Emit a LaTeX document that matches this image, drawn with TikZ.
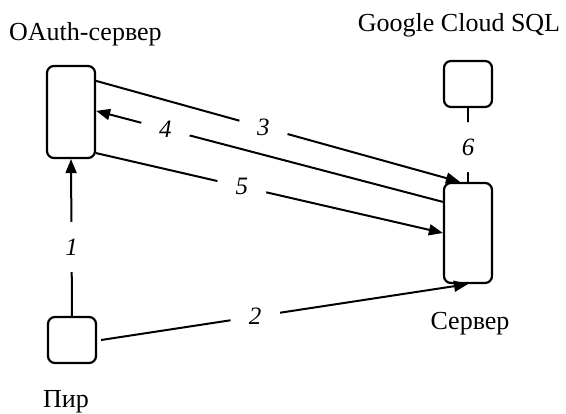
\documentclass[tikz,border=0pt]{standalone}
\usepackage{fontspec}
\setmainfont{Liberation Serif}
\usetikzlibrary{arrows.meta}
\begin{document}
\begin{tikzpicture}[x=1pt,y=-1pt,
  box/.style={draw, line width=2.2pt, rounded corners=7pt, inner sep=0pt},
  link/.style={line width=2pt},
  arr/.style={link, -{Triangle[length=14pt,width=11pt]}},
  num/.style={circle, fill=white, inner sep=0pt, minimum size=50pt,
    font=\fontsize{25}{30}\selectfont\itshape},
  caption/.style={inner sep=0pt, font=\fontsize{26}{31}\selectfont}]
\useasboundingbox (0,0) rectangle (566,414);

% components
\node[box, minimum width=48pt, minimum height=92pt] (oauth)  at (71,112) {};
\node[box, minimum width=48pt, minimum height=46pt] (gsql)   at (468,84) {};
\node[box, minimum width=48pt, minimum height=100pt] (server) at (468,233) {};
\node[box, minimum width=48pt, minimum height=46pt] (pir)    at (72,340) {};

% captions
\node[caption, anchor=base west] (toauth) at (9,41) {OAuth-сервер};
\node[caption, anchor=base] (tgsql) at (459,32) {Google Cloud SQL};
\node[caption, anchor=base] (tserver) at (470,330) {Сервер};
\node[caption, anchor=base] (tpir) at (66,408) {Пир};

% anchor points on the box borders
\coordinate (o3) at ([yshift=-16pt]oauth.north east);
\coordinate (o4) at ([yshift=-46pt]oauth.north east);
\coordinate (o5) at ([yshift=6pt]oauth.south east);
\coordinate (s3) at ([xshift=-8pt]server.north);
\coordinate (s4) at ([yshift=-20pt]server.north west);
\coordinate (p2) at ([xshift=4pt]pir.east);

% message flow
\draw[arr] (pir.north) -- node[num, pos=0.44] {1} (oauth.south);
\draw[arr] (p2) -- node[num, pos=0.42] {2} (server.south);
\draw[arr] (o3) -- node[num, pos=0.46] {3} (s3);
\draw[arr] (s4) -- node[num, pos=0.80] {4} (o4);
\draw[arr] (o5) -- node[num, pos=0.42] {5} (server.west);
\draw[link] (gsql.south) -- node[num, pos=0.53] {6} (server.north);
\end{tikzpicture}
\end{document}
